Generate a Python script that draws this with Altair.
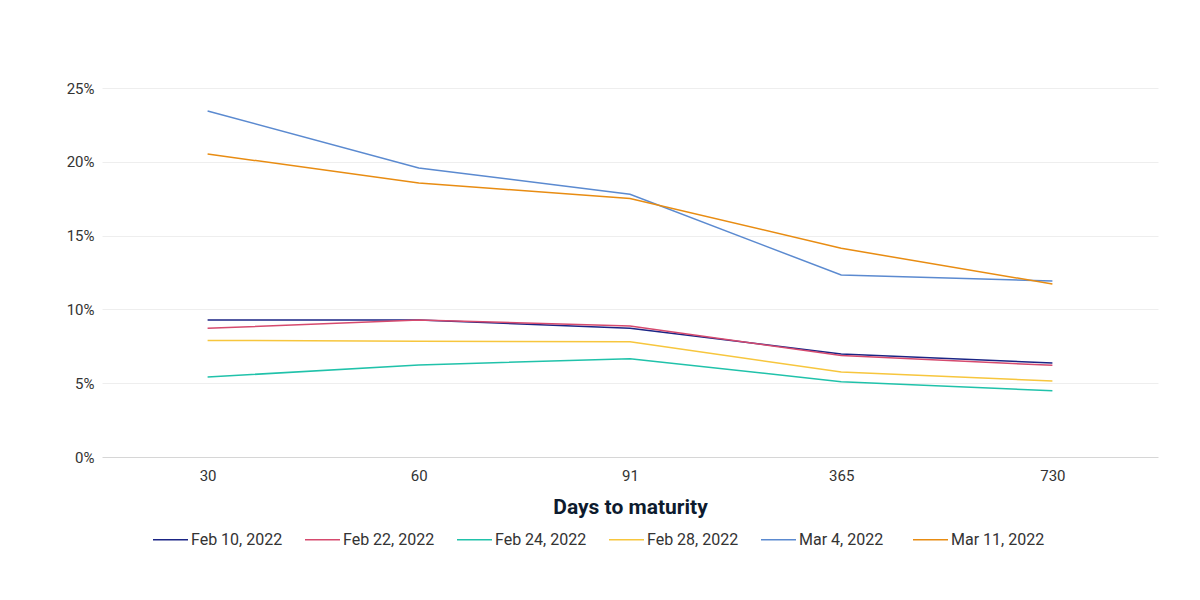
import altair as alt
import pandas as pd

maturities = ["30", "60", "91", "365", "730"]
series_names = ["Feb 10, 2022", "Feb 22, 2022", "Feb 24, 2022", "Feb 28, 2022", "Mar 4, 2022", "Mar 11, 2022"]
feb10 = [9.28, 9.28, 8.72, 6.98, 6.37]
feb22 = [8.72, 9.28, 8.88, 6.87, 6.21]
feb24 = [5.42, 6.23, 6.66, 5.10, 4.49]
feb28 = [7.90, 7.84, 7.81, 5.76, 5.15]
mar4 = [23.44, 19.58, 17.80, 12.33, 11.92]
mar11 = [20.53, 18.56, 17.52, 14.14, 11.72]
colors = ["#1b2585", "#d64a6e", "#20c2aa", "#f7c63d", "#5b8ad0", "#e88c12"]
y_ticks = [0, 5, 10, 15, 20, 25]

rows = []
for name, vals in zip(series_names, [feb10, feb22, feb24, feb28, mar4, mar11]):
    for m, v in zip(maturities, vals):
        rows.append({"Days": m, "Series": name, "Value": v / 100})
df = pd.DataFrame(rows)

chart = alt.Chart(df).mark_line(strokeWidth=1.5).encode(
    x=alt.X("Days:N", sort=maturities, scale=alt.Scale(type="point", padding=0.5),
            axis=alt.Axis(title="Days to maturity", labelAngle=0, ticks=False, domain=False,
                          labelPadding=11, titlePadding=13, titleFontSize=21, titleFontWeight="bold",
                          titleColor="#0d1b2e")),
    y=alt.Y("Value:Q", scale=alt.Scale(domain=[0, 0.25]),
            axis=alt.Axis(title=None, format=".0%", values=[t / 100 for t in y_ticks],
                          ticks=False, domain=False, labelPadding=8,
                          gridColor={"condition": {"test": "datum.value === 0", "value": "#d6d6d6"},
                                     "value": "#eeeeee"})),
    color=alt.Color("Series:N", sort=series_names,
                    scale=alt.Scale(domain=series_names, range=colors),
                    legend=alt.Legend(title=None, orient="none", legendX=50, legendY=433,
                                      direction="horizontal", columns=6, symbolType="stroke",
                                      symbolSize=1225, symbolStrokeWidth=1.5, labelOffset=2,
                                      gridAlign="all", columnPadding=17)),
).properties(
    width=1056, height=369,
    autosize=alt.AutoSizeParams(type="none"),
    padding={"left": 94, "top": 80, "right": 34, "bottom": 100},
).configure(
    font="Roboto"
).configure_view(
    stroke=None
).configure_axis(
    labelFontSize=15, labelColor="#333333", labelFont="Roboto", titleFont="Roboto"
).configure_legend(
    labelFontSize=16, labelColor="#333333", labelFont="Roboto"
)

chart.save("out.html", embed_options={"renderer": "svg", "actions": False})
